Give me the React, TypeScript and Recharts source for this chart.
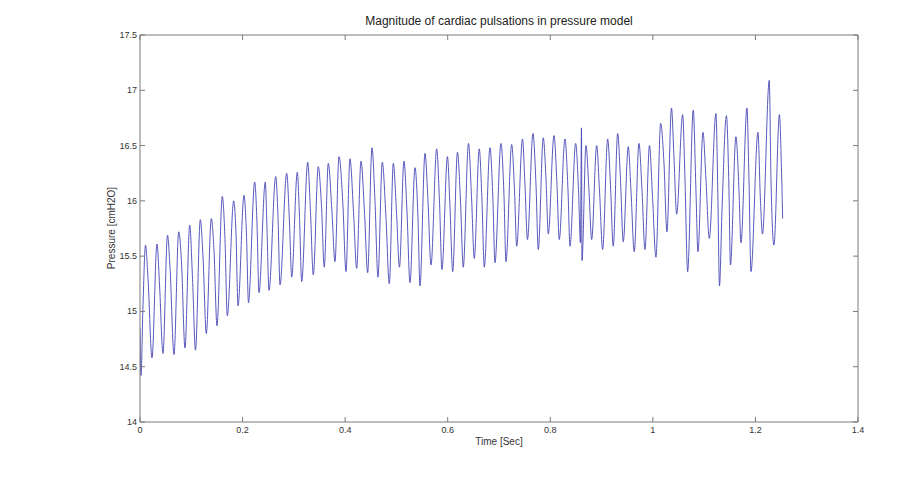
import React from "react";
import { LineChart, Line, XAxis, YAxis } from "recharts";

const xTicks = [0, 0.2, 0.4, 0.6, 0.8, 1, 1.2, 1.4];
const yTicks = [14, 14.5, 15, 15.5, 16, 16.5, 17, 17.5];

const timeSec = [
  0, 0.0019, 0.0058, 0.0107, 0.0156, 0.0234, 0.0331, 0.038, 0.0448, 0.0536,
  0.0585, 0.0663, 0.0755, 0.0809, 0.0877, 0.0969, 0.1024, 0.1082, 0.1176, 0.1228,
  0.1293, 0.139, 0.1443, 0.1501, 0.1605, 0.1657, 0.1702, 0.1827, 0.1872, 0.1911,
  0.2028, 0.2076, 0.2115, 0.2236, 0.2281, 0.232, 0.2443, 0.2476, 0.2515, 0.2646,
  0.2691, 0.273, 0.286, 0.2915, 0.2958, 0.3067, 0.311, 0.3153, 0.327, 0.3324,
  0.3379, 0.3476, 0.3539, 0.3593, 0.3671, 0.3743, 0.3802, 0.388, 0.3958, 0.4016,
  0.4094, 0.4163, 0.4225, 0.4309, 0.4377, 0.4439, 0.4523, 0.4582, 0.464, 0.4724,
  0.4796, 0.4861, 0.4939, 0.5001, 0.5059, 0.5147, 0.5206, 0.5264, 0.5362, 0.542,
  0.5459, 0.5557, 0.5615, 0.5674, 0.5785, 0.5839, 0.5888, 0.5995, 0.6044, 0.6097,
  0.619, 0.6249, 0.6303, 0.6405, 0.6463, 0.6518, 0.6615, 0.6668, 0.6713, 0.6824,
  0.6882, 0.6921, 0.7038, 0.7097, 0.7136, 0.7247, 0.7302, 0.7345, 0.7458, 0.7506,
  0.7555, 0.7662, 0.7721, 0.7766, 0.7863, 0.7916, 0.7961, 0.8072, 0.813, 0.8175,
  0.8286, 0.8345, 0.8384, 0.8495, 0.855, 0.8588, 0.8608, 0.8618, 0.8696, 0.8754,
  0.8807, 0.8904, 0.8959, 0.9021, 0.9119, 0.9173, 0.9228, 0.9314, 0.9368, 0.9423,
  0.952, 0.9573, 0.9637, 0.9729, 0.9788, 0.9846, 0.9934, 0.9992, 1.006, 1.0152,
  1.0216, 1.0275, 1.0363, 1.0411, 1.0464, 1.0581, 1.0626, 1.0678, 1.0788, 1.084,
  1.0879, 1.0977, 1.1035, 1.11, 1.123, 1.1269, 1.1299, 1.1347, 1.1435, 1.1484,
  1.1513, 1.162, 1.1679, 1.1718, 1.1835, 1.1874, 1.1913, 1.2049, 1.2098, 1.2137,
  1.227, 1.2303, 1.2361, 1.2468, 1.2507, 1.2531,
];

const pressure = [
  14.85, 14.42, 15.05, 15.6, 15.3, 14.58, 15.61, 15.25, 14.62, 15.69,
  15.4, 14.61, 15.72, 15.45, 14.67, 15.78, 15.3, 14.65, 15.83, 15.5,
  14.8, 15.84, 15.55, 14.87, 16.04, 15.65, 14.96, 16.0, 15.7, 15.05,
  16.05, 15.7, 15.08, 16.17, 15.8, 15.17, 16.17, 15.75, 15.19, 16.22,
  15.85, 15.24, 16.25, 15.8, 15.31, 16.26, 15.85, 15.27, 16.35, 15.9,
  15.33, 16.31, 15.95, 15.4, 16.34, 15.9, 15.45, 16.4, 15.95, 15.36,
  16.38, 15.9, 15.39, 16.36, 15.9, 15.35, 16.48, 16.0, 15.31, 16.35,
  15.85, 15.25, 16.34, 15.9, 15.4, 16.36, 15.9, 15.26, 16.3, 15.85,
  15.23, 16.43, 16.0, 15.42, 16.47, 16.0, 15.38, 16.4, 15.95, 15.36,
  16.44, 16.0, 15.4, 16.52, 16.05, 15.48, 16.47, 16.0, 15.4, 16.48,
  16.0, 15.44, 16.52, 16.05, 15.45, 16.51, 16.1, 15.59, 16.56, 16.15,
  15.65, 16.61, 16.15, 15.56, 16.57, 16.2, 15.7, 16.59, 16.15, 15.65,
  16.56, 16.1, 15.59, 16.52, 16.1, 15.62, 16.66, 15.46, 16.5, 16.1,
  15.65, 16.5, 16.1, 15.56, 16.56, 16.15, 15.59, 16.61, 16.2, 15.63,
  16.49, 16.1, 15.54, 16.52, 16.1, 15.56, 16.5, 16.05, 15.49, 16.7,
  16.35, 15.72, 16.84, 16.4, 15.88, 16.78, 16.2, 15.36, 16.82, 16.1,
  15.54, 16.62, 16.2, 15.66, 16.79, 16.0, 15.23, 15.9, 16.77, 16.1,
  15.42, 16.58, 16.1, 15.62, 16.84, 16.2, 15.36, 16.62, 16.0, 15.7,
  17.09, 16.2, 15.6, 16.78, 16.3, 15.84,
];

const data = timeSec.map((t, i) => ({ t, p: pressure[i] }));

const BOX = "#7a7a7a";
const TXT = "#333333";
const FONT = "'Liberation Sans', Arial, sans-serif";
const TL = 5;

const BottomTick = (props: any) => {
  const { x, y, payload } = props;
  return (
    <g>
      <line x1={x} y1={y} x2={x} y2={y - TL} stroke={BOX} strokeWidth={1} />
      <text x={x} y={y + 11} textAnchor="middle" fontSize={9} fill={TXT} fontFamily={FONT}>
        {String(payload.value)}
      </text>
    </g>
  );
};

const TopTick = (props: any) => {
  const { x, y } = props;
  return <line x1={x} y1={y} x2={x} y2={y + TL} stroke={BOX} strokeWidth={1} />;
};

const LeftTick = (props: any) => {
  const { x, y, payload } = props;
  return (
    <g>
      <line x1={x} y1={y} x2={x + TL} y2={y} stroke={BOX} strokeWidth={1} />
      <text x={x - 3} y={y + 3} textAnchor="end" fontSize={9} fill={TXT} fontFamily={FONT}>
        {String(payload.value)}
      </text>
    </g>
  );
};

const RightTick = (props: any) => {
  const { x, y } = props;
  return <line x1={x} y1={y} x2={x - TL} y2={y} stroke={BOX} strokeWidth={1} />;
};

export default function App() {
  return (
    <div style={{ position: "relative", width: 905, height: 465, background: "#fff" }}>
      <LineChart
        width={905}
        height={465}
        data={data}
        margin={{ top: 22, right: 45, bottom: 21, left: 92 }}
      >
        <XAxis
          dataKey="t"
          type="number"
          domain={[0, 1.4]}
          ticks={xTicks}
          interval={0}
          allowDataOverflow
          height={30}
          stroke={BOX}
          tickLine={false}
          tickSize={0}
          tickMargin={0}
          tick={<BottomTick />}
        />
        <XAxis
          xAxisId="top"
          orientation="top"
          dataKey="t"
          type="number"
          domain={[0, 1.4]}
          ticks={xTicks}
          interval={0}
          allowDataOverflow
          height={5}
          stroke={BOX}
          tickLine={false}
          tickSize={0}
          tickMargin={0}
          tick={<TopTick />}
        />
        <YAxis
          type="number"
          domain={[14, 17.5]}
          ticks={yTicks}
          interval={0}
          allowDataOverflow
          width={40}
          stroke={BOX}
          tickLine={false}
          tickSize={0}
          tickMargin={0}
          tick={<LeftTick />}
        />
        <YAxis
          yAxisId="right"
          orientation="right"
          type="number"
          domain={[14, 17.5]}
          ticks={yTicks}
          interval={0}
          allowDataOverflow
          width={10}
          stroke={BOX}
          tickLine={false}
          tickSize={0}
          tickMargin={0}
          tick={<RightTick />}
        />
        <Line
          type="monotone"
          dataKey="p"
          stroke="#4545b5"
          strokeWidth={0.9}
          dot={false}
          isAnimationActive={false}
        />
      </LineChart>
      <div
        style={{
          position: "absolute",
          left: 132,
          width: 718,
          top: 6,
          textAlign: "center",
          fontFamily: FONT,
          fontSize: 12,
          color: "#222",
          whiteSpace: "nowrap",
        }}
      >
        Magnitude of cardiac pulsations in pressure model
      </div>
      <div
        style={{
          position: "absolute",
          left: 132,
          width: 718,
          top: 428,
          textAlign: "center",
          fontFamily: FONT,
          fontSize: 10,
          color: TXT,
          whiteSpace: "nowrap",
        }}
      >
        Time [Sec]
      </div>
      <div
        style={{
          position: "absolute",
          left: 103,
          top: 220,
          transform: "translate(-50%, -50%) rotate(-90deg)",
          fontFamily: FONT,
          fontSize: 10,
          color: TXT,
          whiteSpace: "nowrap",
        }}
      >
        Pressure [cmH2O]
      </div>
    </div>
  );
}
